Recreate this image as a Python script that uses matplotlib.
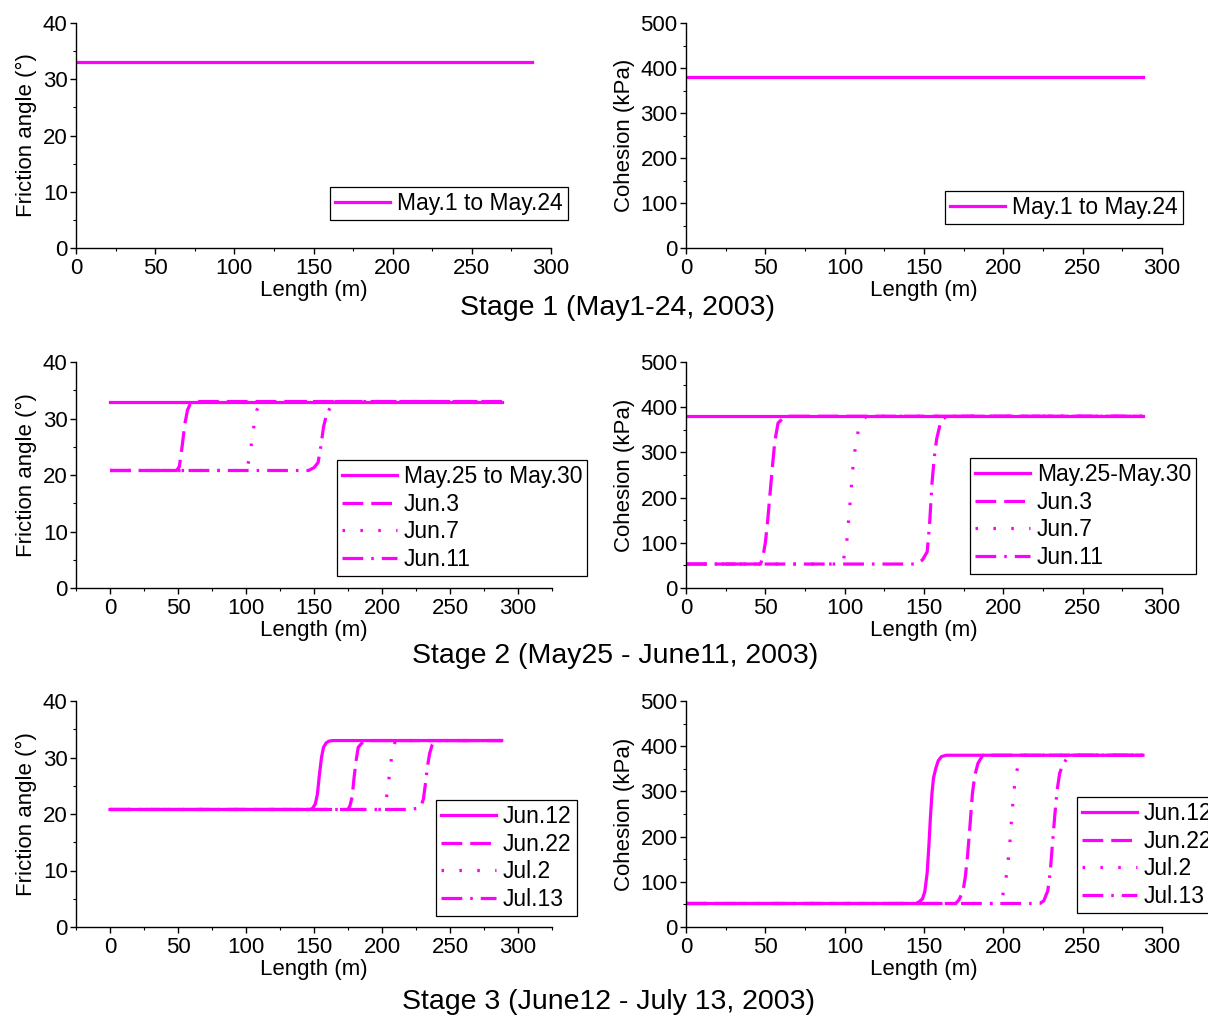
import matplotlib
matplotlib.use("Agg")
import matplotlib.pyplot as plt
from matplotlib.ticker import MultipleLocator

plt.rcParams['font.family'] = ['Liberation Sans', 'DejaVu Sans']

# ---------------- data ----------------
# Stage 1
s1_x = [0, 288]
s1_phi = [33, 33]
s1_c = [380, 380]
s1_label = "May.1 to May.24"

# Stage 2 friction angle
s2_phi_labels = ["May.25 to May.30", "Jun.3", "Jun.7", "Jun.11"]
s2_phi_x = [
    [0, 288],
    [0, 49, 51, 53, 55, 57, 59, 62, 288],
    [0, 100, 101, 102, 104, 106, 108, 111, 288],
    [0, 146, 150, 153, 155, 157, 159, 162, 166, 288],
]
s2_phi_y = [
    [33, 33],
    [20.8, 20.8, 21.5, 25, 29, 31.5, 32.6, 33, 33],
    [20.8, 20.8, 21.5, 22.5, 25.5, 29, 31.5, 33, 33],
    [20.8, 20.8, 21.3, 22.2, 25, 28.5, 30.5, 32, 33, 33],
]
# Stage 2 cohesion
s2_c_labels = ["May.25-May.30", "Jun.3", "Jun.7", "Jun.11"]
s2_c_x = [
    [0, 288],
    [0, 47, 48.5, 50, 51.5, 53, 54.5, 56, 58, 61, 65, 288],
    [0, 97, 99, 101, 103, 105, 107, 109, 111, 114, 288],
    [0, 145, 149, 152, 153.5, 155, 156.5, 158, 160, 162, 165, 288],
]
s2_c_y = [
    [380, 380],
    [53, 53, 70, 100, 150, 210, 270, 325, 365, 375, 380, 380],
    [53, 53, 60, 90, 170, 260, 320, 355, 372, 380, 380],
    [53, 53, 62, 80, 140, 230, 290, 330, 360, 375, 380, 380],
]

# Stage 3 friction angle
s3_labels = ["Jun.12", "Jun.22", "Jul.2", "Jul.13"]
s3_phi_x = [
    [0, 147, 149, 151, 152.5, 154, 155.5, 157, 159, 161, 164, 288],
    [0, 175, 176.5, 178, 179.5, 181, 182.5, 185, 189, 192, 288],
    [0, 201, 202.5, 204, 205.5, 207, 208.5, 210, 212, 288],
    [0, 220, 226, 229, 230.5, 232, 233.5, 235, 237, 239, 288],
]
s3_phi_y = [
    [20.8, 20.8, 21, 21.8, 23.5, 27, 30, 31.8, 32.6, 32.9, 33, 33],
    [20.8, 20.8, 21.5, 23, 26.5, 29.5, 31.8, 32.5, 33, 33, 33],
    [20.8, 20.8, 21.8, 24, 27, 30, 32, 33, 33, 33],
    [20.8, 20.8, 21, 21.6, 22.7, 25.5, 28.5, 30.7, 32.3, 33, 33],
]
# Stage 3 cohesion
s3_c_x = [
    [0, 145, 147, 149, 150.5, 152, 153, 154, 155, 156, 157.5, 159, 161, 164, 288],
    [0, 170, 172, 174.5, 176, 177.5, 179, 180.5, 182, 184, 187, 288],
    [0, 197, 199, 201, 202.5, 204, 205.5, 207, 208.5, 210, 213, 288],
    [0, 223, 225.5, 228, 229.5, 231, 232.5, 234, 235.5, 237.5, 240, 244, 288],
]
s3_c_y = [
    [52, 52, 56, 62, 78, 120, 175, 240, 295, 330, 352, 368, 377, 380, 380],
    [52, 52, 60, 78, 110, 160, 225, 295, 335, 362, 380, 380],
    [52, 52, 62, 90, 130, 180, 255, 310, 345, 368, 380, 380],
    [52, 52, 58, 80, 120, 185, 250, 305, 340, 360, 372, 380, 380],
]

stage_titles = ["Stage 1 (May1-24, 2003)",
                "Stage 2 (May25 - June11, 2003)",
                "Stage 3 (June12 - July 13, 2003)"]

# ---------------- style ----------------
COLOR = "#FF00FF"
LW = 2.3
styles = ["-", (0, (6.5, 2.5)), (0, (0.8, 4.8)), (0, (6.5, 2.5, 0.8, 2.5))]
FS = 16
LFS = 16.5

W, H = 1208, 1017
fig = plt.figure(figsize=(W / 100, H / 100), dpi=100)


def make_ax(x0, x1, ytop, ybot):
    return fig.add_axes([x0 / W, 1 - ybot / H, (x1 - x0) / W, (ybot - ytop) / H])


def style_ax(ax, xlim, ylim, ymaj, ylabel):
    ax.set_xlim(*xlim)
    ax.set_ylim(*ylim)
    ax.spines['top'].set_visible(False)
    ax.spines['right'].set_visible(False)
    for s in ('left', 'bottom'):
        ax.spines[s].set_linewidth(1.0)
    ax.xaxis.set_major_locator(MultipleLocator(50))
    ax.xaxis.set_minor_locator(MultipleLocator(25))
    ax.yaxis.set_major_locator(MultipleLocator(ymaj))
    ax.yaxis.set_minor_locator(MultipleLocator(ymaj / 2))
    ax.tick_params(which='major', direction='out', length=4, width=1,
                   labelsize=FS, pad=2)
    ax.tick_params(axis='x', which='major', pad=3)
    ax.tick_params(which='minor', direction='out', length=2.5, width=0.8)
    ax.set_xticks([0, 50, 100, 150, 200, 250, 300])
    ax.set_xlabel("Length (m)", fontsize=FS, labelpad=1)
    ax.set_ylabel(ylabel, fontsize=FS, labelpad=4)


def add_legend(ax, x, y):
    leg = ax.legend(loc='upper left', bbox_to_anchor=(x / W, 1 - y / H),
                    bbox_transform=fig.transFigure, borderaxespad=0,
                    fontsize=LFS, frameon=True, fancybox=False,
                    edgecolor='black', framealpha=1, handlelength=2.4,
                    handletextpad=0.3, labelspacing=0.2, borderpad=0.22)
    leg.get_frame().set_linewidth(0.9)
    return leg


PHI = "Friction angle (°)"
COH = "Cohesion (kPa)"

# Row 1
ax = make_ax(76, 551, 23, 248)
ax.plot(s1_x, s1_phi, color=COLOR, lw=LW, linestyle=styles[0], label=s1_label)
style_ax(ax, (0, 300), (0, 40), 10, PHI)
add_legend(ax, 330, 187)

ax = make_ax(686, 1162, 23, 248)
ax.plot(s1_x, s1_c, color=COLOR, lw=LW, linestyle=styles[0], label=s1_label)
style_ax(ax, (0, 300), (0, 500), 100, COH)
add_legend(ax, 945, 191)

# Row 2
ax = make_ax(76, 552, 362, 588)
for xs, ys, lab, ls in zip(s2_phi_x, s2_phi_y, s2_phi_labels, styles):
    ax.plot(xs, ys, color=COLOR, lw=LW, linestyle=ls, label=lab)
style_ax(ax, (-25, 325), (0, 40), 10, PHI)
add_legend(ax, 337, 460)

ax = make_ax(686, 1162, 362, 588)
for xs, ys, lab, ls in zip(s2_c_x, s2_c_y, s2_c_labels, styles):
    ax.plot(xs, ys, color=COLOR, lw=LW, linestyle=ls, label=lab)
style_ax(ax, (0, 300), (0, 500), 100, COH)
add_legend(ax, 970, 458)

# Row 3
ax = make_ax(76, 552, 701, 927)
for xs, ys, lab, ls in zip(s3_phi_x, s3_phi_y, s3_labels, styles):
    ax.plot(xs, ys, color=COLOR, lw=LW, linestyle=ls, label=lab)
style_ax(ax, (-25, 325), (0, 40), 10, PHI)
add_legend(ax, 436, 800)

ax = make_ax(686, 1162, 701, 927)
for xs, ys, lab, ls in zip(s3_c_x, s3_c_y, s3_labels, styles):
    ax.plot(xs, ys, color=COLOR, lw=LW, linestyle=ls, label=lab)
style_ax(ax, (0, 300), (0, 500), 100, COH)
add_legend(ax, 1077, 797)

# Stage titles
for t, yc, xc in zip(stage_titles, [308, 656, 1002], [617, 615, 608]):
    fig.text(xc / W, 1 - yc / H, t, ha='center', va='center', fontsize=20.5)

fig.savefig("out.png", dpi=100)
